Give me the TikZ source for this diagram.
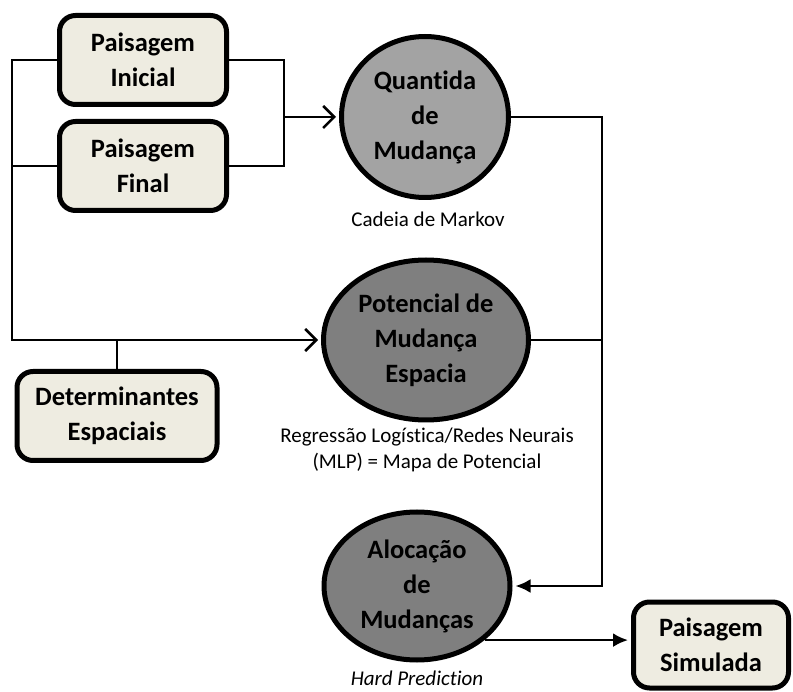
\documentclass[tikz,border=0pt]{standalone}
\usepackage{fontspec}
\setmainfont{Carlito}[Ligatures=NoCommon]
\usetikzlibrary{shapes.geometric,arrows.meta}
\definecolor{paisagem}{HTML}{EEECE1}
\definecolor{mudanca}{HTML}{7F7F7F}
\definecolor{quantidade}{HTML}{A3A3A3}

\begin{document}
\begin{tikzpicture}[x=1pt,y=-1pt,
                   line width=2.5pt,
                   every node/.style = {align=center, inner sep=0pt},
                   box/.style = {shape=rectangle, draw, rounded corners=16pt,
                                 line width=5pt, fill=paisagem,
                                 minimum width=167pt, minimum height=89pt,
                                 font=\fontsize{26.5}{35}\selectfont\bfseries},
                   oval/.style = {shape=ellipse, draw, line width=5pt, fill=mudanca,
                                  font=\fontsize{26.5}{35}\selectfont\bfseries},
                   nota/.style = {font=\fontsize{21}{26}\selectfont},
                   aberta/.style = {-{Straight Barb[length=11pt,width=22pt]}, shorten >=3pt},
                   cheia/.style = {-{Latex[length=15pt,width=14pt]}, shorten >=3pt}]
  \useasboundingbox (0,0) rectangle (793,692);
  % paisagens
  \node[box] (ini) at (143,60) {Paisagem\\Inicial};
  \node[box] (fin) at (143,166) {Paisagem\\Final};
  \node[box, minimum width=200pt] (det) at (117,416) {Determinantes\\Espaciais};
  \node[box, minimum width=155pt, minimum height=86pt] (sim) at (711,645) {Paisagem\\Simulada};
  % modelos
  \node[oval, fill=quantidade, minimum width=167pt, minimum height=161pt] (qtd) at (425,117)
       {Quantida\\de\\Mudança};
  \node[oval, minimum width=205pt, minimum height=160pt] (pot) at (426,340)
       {Potencial de\\Mudança\\Espacia};
  \node[oval, minimum width=186pt, minimum height=148pt] (aloc) at (417,586)
       {Alocação\\de\\Mudanças};
  \node[nota] (markov) at (428,219) {Cadeia de Markov};
  \node[nota] (mlp) at (427,450) {Regressão Logística/Redes Neurais\\(MLP) = Mapa de Potencial};
  \node[nota, font=\fontsize{21}{26}\selectfont\itshape] (hard) at (417,678) {Hard Prediction};
  % ligacoes
  \coordinate (esq) at (12,60);
  \coordinate (junta) at (284,117);
  \coordinate (dir) at (602,117);
  \draw[aberta] (ini.west) -- (esq) |- (pot.west);
  \draw (fin.west) -- (fin.west -| esq);
  \draw (det.north) -- (det.north |- pot.west);
  \draw (ini.east) -| (junta) |- (fin.east);
  \draw[aberta] (junta) -- (qtd.west);
  \draw[cheia] (qtd.east) -- (dir) |- (aloc.east);
  \draw (pot.east) -- (pot.east -| dir);
  \draw[cheia] (aloc.south east) -- (aloc.south east -| sim.west);
\end{tikzpicture}
\end{document}
